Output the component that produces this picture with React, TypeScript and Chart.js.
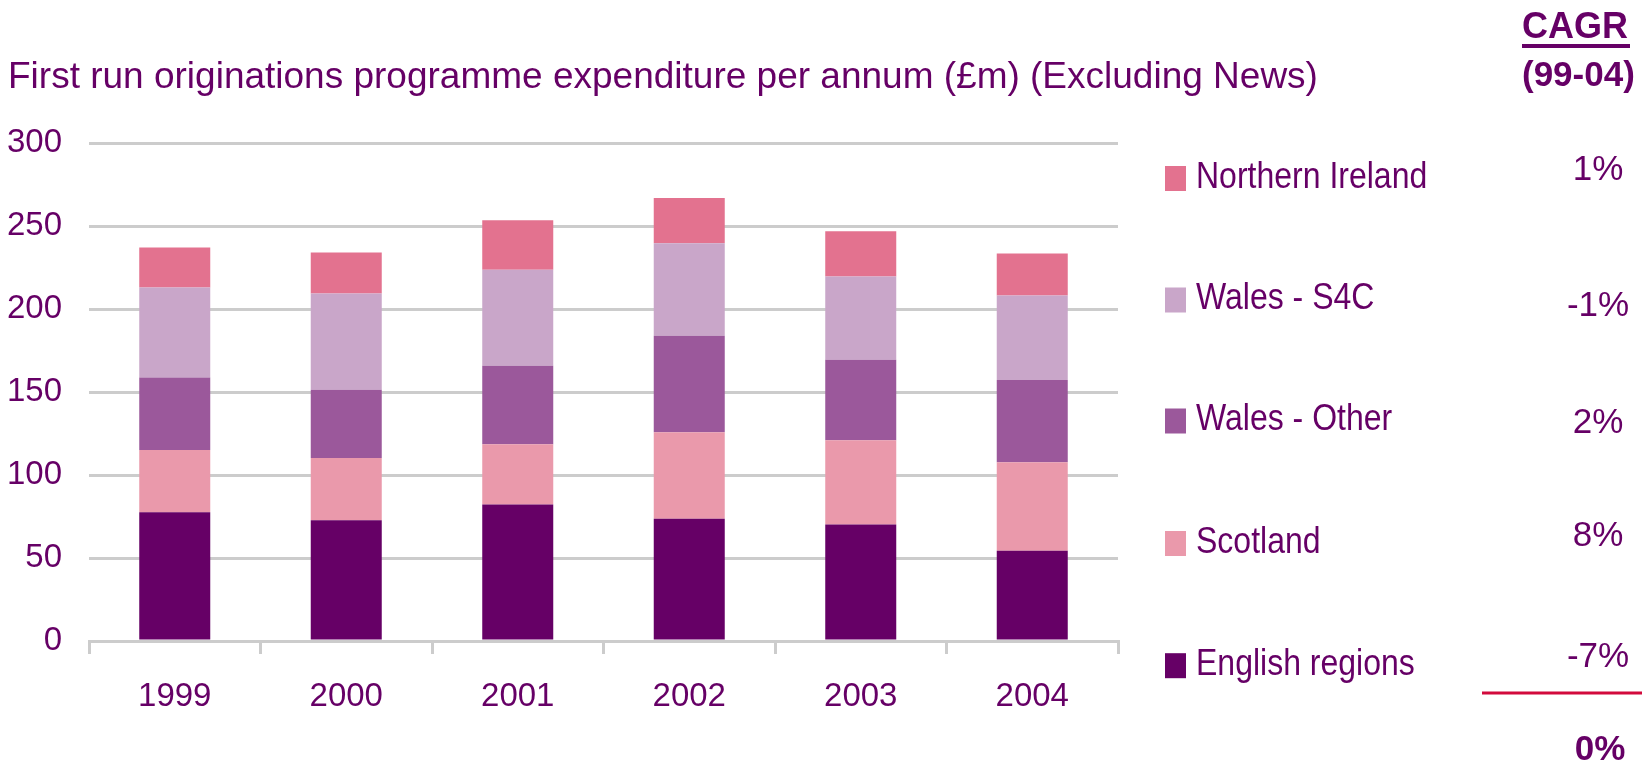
import React, { useEffect, useRef } from 'react';
import { Chart, registerables } from 'chart.js';

Chart.register(...registerables);

// ---- Data ----
const years = ['1999', '2000', '2001', '2002', '2003', '2004'];
const englishRegions = [77.5, 72.7, 82.3, 73.7, 70.2, 54.4];
const scotland = [37.5, 37.5, 36.2, 52.1, 50.8, 53.3];
const walesOther = [43.7, 41.1, 47.3, 58.1, 48.4, 49.6];
const walesS4C = [54.2, 58.1, 57.9, 55.7, 50.2, 50.8];
const northernIreland = [24.1, 24.7, 29.8, 27.3, 27.3, 25.4];
const seriesNames = ['English regions', 'Scotland', 'Wales - Other', 'Wales - S4C', 'Northern Ireland'];
const cagrValues = ['-7%', '8%', '2%', '-1%', '1%'];
const cagrTotal = '0%';
const cagrHeader = ['CAGR', '(99-04)'];
const titleText = 'First run originations programme expenditure per annum (£m) (Excluding News)';

// ---- Styles ----
const FONT = '"Liberation Sans", Arial, sans-serif';
const TEXT = '#660066';
const GRID = '#cccccc';
const seriesColors = ['#660066', '#EA99AB', '#9B589B', '#C9A6C9', '#E3728F'];

const overlayPlugin = {
  id: 'overlay',
  afterDraw(chart: any) {
    const ctx = chart.ctx as CanvasRenderingContext2D;
    ctx.save();
    // Title
    ctx.fillStyle = TEXT;
    ctx.font = `37px ${FONT}`;
    ctx.textAlign = 'left';
    ctx.textBaseline = 'alphabetic';
    ctx.fillText(titleText, 8, 88);

    // CAGR header
    ctx.font = `bold 36px ${FONT}`;
    ctx.textBaseline = 'middle';
    ctx.fillText(cagrHeader[0], 1522, 28);
    const w = ctx.measureText(cagrHeader[0]).width;
    ctx.fillRect(1522, 44, w + 2, 4);
    ctx.font = `bold 35px ${FONT}`;
    ctx.fillText(cagrHeader[1], 1522, 76);

    // Legend + CAGR values (dataset order: bottom to top)
    const rowY = [665.7, 543.5, 421, 300, 178.5];
    const cagrY = [657, 536.5, 423.5, 306, 170];
    const stretch = 1.14;
    chart.data.datasets.forEach((ds: any, i: number) => {
      ctx.fillStyle = ds.backgroundColor;
      ctx.fillRect(1165, rowY[i] - 12.5, 21, 25);
      ctx.fillStyle = TEXT;
      ctx.font = `32px ${FONT}`;
      ctx.textAlign = 'left';
      ctx.textBaseline = 'middle';
      ctx.save();
      ctx.translate(1196, rowY[i] - 1);
      ctx.scale(1, stretch);
      ctx.fillText(ds.label, 0, 0);
      ctx.restore();
      ctx.font = `35px ${FONT}`;
      ctx.textAlign = 'center';
      ctx.fillText(cagrValues[i], 1598, cagrY[i]);
    });

    // Red separator
    ctx.fillStyle = '#D20A3C';
    ctx.fillRect(1482, 691.5, 160, 3);

    // Total
    ctx.fillStyle = TEXT;
    ctx.font = `bold 35px ${FONT}`;
    ctx.textAlign = 'center';
    ctx.textBaseline = 'middle';
    ctx.fillText(cagrTotal, 1600, 750);
    ctx.restore();
  },
};

export default function App() {
  const ref = useRef<HTMLCanvasElement | null>(null);

  useEffect(() => {
    document.body.style.margin = '0';
    const canvas = ref.current;
    if (!canvas) return;
    const seriesData = [englishRegions, scotland, walesOther, walesS4C, northernIreland];
    const chart = new Chart(canvas, {
      type: 'bar',
      data: {
        labels: years,
        datasets: seriesNames.map((name, i) => ({
          label: name,
          data: seriesData[i],
          backgroundColor: seriesColors[i],
          borderWidth: 0,
          categoryPercentage: 1,
          barPercentage: 0.414,
        })),
      },
      options: {
        responsive: false,
        devicePixelRatio: 1,
        animation: false,
        layout: { padding: { left: 8, right: 524, top: 143, bottom: 0 } },
        plugins: {
          legend: { display: false },
          title: { display: false },
          tooltip: { enabled: false },
        },
        scales: {
          x: {
            stacked: true,
            ticks: { color: TEXT, font: { family: FONT, size: 33 }, padding: 23 },
            grid: {
              display: true,
              drawOnChartArea: false,
              drawTicks: true,
              tickLength: 13,
              color: GRID,
              lineWidth: 3,
              offset: true,
            },
            border: { display: true, color: GRID, width: 3 },
            afterFit: (s: any) => {
              s.height = 124;
            },
          },
          y: {
            stacked: true,
            min: 0,
            max: 300,
            ticks: { stepSize: 50, color: TEXT, font: { family: FONT, size: 33 }, padding: 27 },
            grid: { color: GRID, lineWidth: 3, drawTicks: false },
            border: { display: false },
            afterFit: (s: any) => {
              s.width = 81;
            },
          },
        },
      },
      plugins: [overlayPlugin],
    });
    return () => chart.destroy();
  }, []);

  return (
    <div style={{ width: 1642, height: 765 }}>
      <canvas ref={ref} width={1642} height={765} style={{ display: 'block' }} />
    </div>
  );
}
